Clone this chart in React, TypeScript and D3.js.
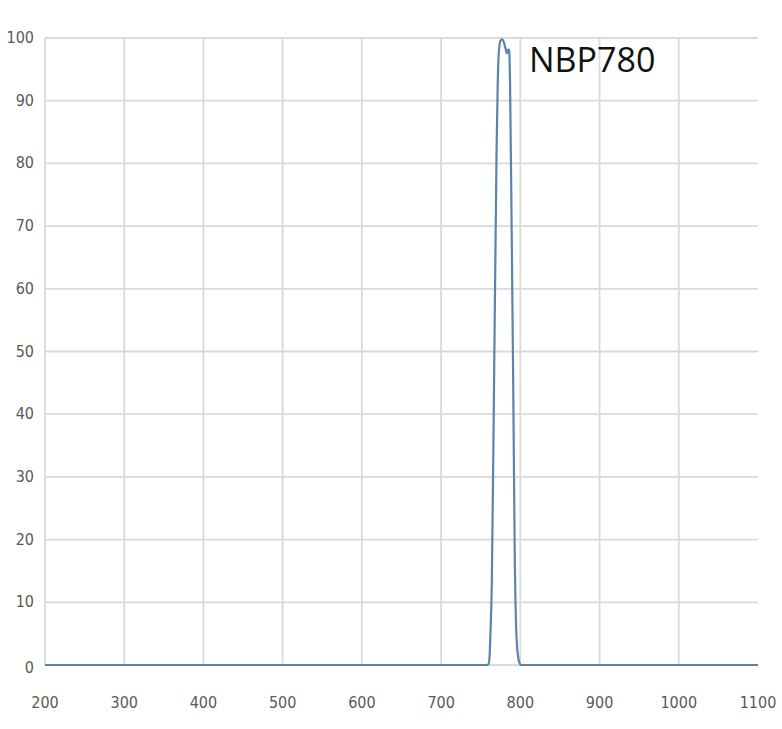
import React from "react";
import * as d3 from "d3";

const wavelengths = [200, 750, 758, 760, 761, 762, 764, 767, 770, 771.5, 773, 775, 777, 779, 781, 783, 785, 786, 787, 789, 791, 793, 795, 797, 799, 801, 1100];
const transmission = [0, 0, 0, 0.2, 1, 4, 13, 47, 82, 93, 98, 99.6, 99.8, 99.4, 98.5, 97.6, 98.2, 97.8, 93, 70, 45, 17, 5, 1.5, 0.3, 0, 0];
const xTicks = [200, 300, 400, 500, 600, 700, 800, 900, 1000, 1100];
const yTicks = [0, 10, 20, 30, 40, 50, 60, 70, 80, 90, 100];
const label = "NBP780";

export default function App() {
  const W = 782, H = 729;
  const x = d3.scaleLinear().domain([200, 1100]).range([45, 758]);
  const y = d3.scaleLinear().domain([0, 100]).range([665, 38]);
  const pts = wavelengths.map((w, i) => [w, transmission[i]] as [number, number]);
  const line = d3.line<[number, number]>().x(d => x(d[0])).y(d => y(d[1])).curve(d3.curveMonotoneX);
  const tickFont = "'Liberation Sans Narrow', 'DejaVu Sans Condensed', sans-serif";
  return (
    <svg width={W} height={H} style={{ position: "absolute", left: 0, top: 0, background: "#fff" }}>
      <rect x={0} y={0} width={W} height={H} fill="#fff" />
      {yTicks.map(t => (
        <line key={"gy" + t} x1={x(200)} x2={x(1100)} y1={y(t)} y2={y(t)} stroke="#dadada" strokeWidth={1.8} />
      ))}
      {xTicks.filter(t => t < 1100).map(t => (
        <line key={"gx" + t} x1={x(t)} x2={x(t)} y1={y(0)} y2={y(100)} stroke="#dadada" strokeWidth={1.8} />
      ))}
      {yTicks.map(t => (
        <text key={"ly" + t} x={34} y={y(t) + (t === 0 ? 8 : 5)} textAnchor="end" fontFamily={tickFont} fontSize={16} fill="#595959">{t}</text>
      ))}
      {xTicks.map(t => (
        <text key={"lx" + t} x={x(t)} y={708} textAnchor="middle" fontFamily={tickFont} fontSize={16} fill="#595959">{t}</text>
      ))}
      <path d={line(pts) || ""} fill="none" stroke="#5b84ab" strokeWidth={2.2} />
      <text x={529} y={72} fontFamily="'Open Sans', sans-serif" fontSize={34} fill="#111">{label}</text>
    </svg>
  );
}
